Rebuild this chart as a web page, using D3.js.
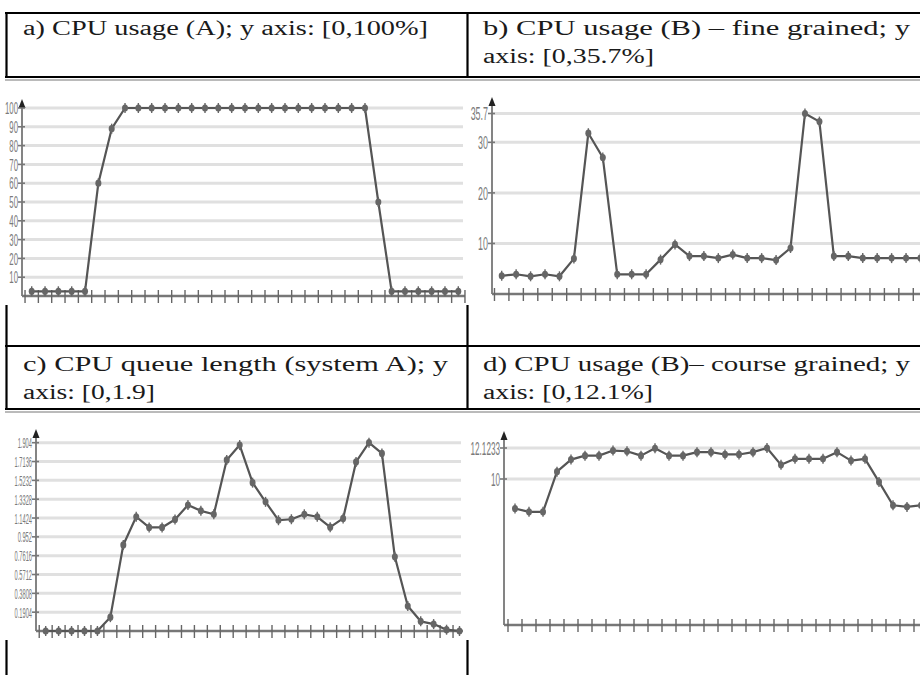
<!DOCTYPE html>
<html>
<head>
<meta charset="utf-8">
<script src="https://cdn.jsdelivr.net/npm/d3@7"></script>
<style>
  html, body { margin: 0; padding: 0; background: #fff; }
  svg { display: block; }
</style>
</head>
<body>
<svg id="fig" width="920" height="675"></svg>
<script>
// values
var cpuA = [2.5, 2.5, 2.5, 2.5, 2.5, 60, 89, 100, 100, 100, 100, 100, 100, 100, 100, 100,
            100, 100, 100, 100, 100, 100, 100, 100, 100, 100, 50, 2.5, 2.5, 2.5, 2.5, 2.5, 2.5];
var cpuBFine = [3.6, 3.9, 3.5, 3.9, 3.5, 7.0, 31.8, 27.0, 3.9, 3.9, 3.9, 6.8, 9.8, 7.5, 7.5,
                7.1, 7.8, 7.1, 7.1, 6.7, 9.1, 35.7, 34.1, 7.5, 7.5, 7.1, 7.1, 7.1, 7.1, 7.1];
var queueA = [0, 0, 0, 0, 0, 0.14, 0.87, 1.155, 1.047, 1.047, 1.128, 1.273, 1.215, 1.18, 1.73,
              1.88, 1.50, 1.306, 1.12, 1.13, 1.18, 1.155, 1.05, 1.138, 1.71, 1.904, 1.796,
              0.75, 0.253, 0.098, 0.07, 0.013, 0];
var cpuBCoarse = [7.98, 7.75, 7.75, 10.5, 11.33, 11.6, 11.6, 11.95, 11.9, 11.6, 12.1, 11.6,
                  11.6, 11.84, 11.84, 11.68, 11.68, 11.84, 12.12, 10.97, 11.38, 11.38, 11.38,
                  11.84, 11.26, 11.38, 9.8, 8.2, 8.09, 8.2];

var ticksA = [10, 20, 30, 40, 50, 60, 70, 80, 90, 100];
var labelsA = ["10", "20", "30", "40", "50", "60", "70", "80", "90", "100"];
var ticksB = [10, 20, 30, 35.7];
var labelsB = ["10", "20", "30", "35.7"];
var ticksC = [0.1904, 0.3808, 0.5712, 0.7616, 0.952, 1.1424, 1.3328, 1.5232, 1.7136, 1.904];
var labelsC = ["0.1904", "0.3808", "0.5712", "0.7616", "0.952", "1.1424", "1.3328", "1.5232", "1.7136", "1.904"];
var ticksD = [10, 12.1233];
var labelsD = ["10", "12.1233"];

var captionA = ["a) CPU usage (A); y axis: [0,100%]"];
var captionB = ["b) CPU usage (B) \u2013 fine grained; y", "axis: [0,35.7%]"];
var captionC = ["c) CPU queue length (system A); y", "axis: [0,1.9]"];
var captionD = ["d) CPU usage (B)\u2013 course grained; y", "axis: [0,12.1%]"];

(function () {
  "use strict";

  var svg = d3.select("#fig");

  // table rules (LaTeX tabular around the screenshots)
  var rules = svg.append("g").attr("class", "rules").attr("stroke", "#000");
  function hline(y, w, c) {
    rules.append("line").attr("x1", 5).attr("x2", 920).attr("y1", y).attr("y2", y)
      .attr("stroke-width", w).attr("stroke", c || "#000");
  }
  function vlines(y1, y2) {
    [6.5, 467.5].forEach(function (x) {
      rules.append("line").attr("x1", x).attr("x2", x).attr("y1", y1).attr("y2", y2)
        .attr("stroke-width", 2.2);
    });
  }
  hline(13, 2);
  vlines(12, 78);
  hline(77, 2);
  hline(80, 1, "#777");
  vlines(305, 410);
  hline(346, 2);
  hline(409, 2);
  hline(412, 1, "#777");
  vlines(640, 675);

  // captions, set in a serif face and stretched to the justified widths
  function caption(lines, x, y0, widths) {
    lines.forEach(function (t, i) {
      svg.append("text")
        .attr("x", x).attr("y", y0 + i * 28)
        .attr("font-family", "'Liberation Serif', 'DejaVu Serif', serif")
        .attr("font-size", 20)
        .attr("fill", "#1a1a1a")
        .attr("textLength", widths[i])
        .attr("lengthAdjust", "spacingAndGlyphs")
        .text(t);
    });
  }
  caption(captionA, 23, 35, [405]);
  caption(captionB, 483, 35, [427, 171]);
  caption(captionC, 23, 371, [425, 132]);
  caption(captionD, 483, 371, [427, 170]);

  var panels = [
    { data: cpuA, ticks: ticksA, labels: labelsA, max: 100,
      left: 22, first: 31.7, last: 458.3, right: 465, bottom: 296, top: 108, tip: 99,
      fs: 17, sx: 0.46 },
    { data: cpuBFine, ticks: ticksB, labels: labelsB, max: 35.7,
      left: 492, first: 501.7, last: 920.5, right: 922, bottom: 294, top: 113.5, tip: 97,
      fs: 19, sx: 0.47 },
    { data: queueA, ticks: ticksC, labels: labelsC, max: 1.904,
      left: 36, first: 45.7, last: 459.5, right: 463, bottom: 631, top: 442.7, tip: 429,
      fs: 15.5, sx: 0.37 },
    { data: cpuBCoarse, ticks: ticksD, labels: labelsD, max: 12.1233,
      left: 504, first: 515, last: 921, right: 922, bottom: 625, top: 448, tip: 431,
      fs: 19, sx: 0.43 }
  ];

  panels.forEach(drawPanel);

  function drawPanel(p) {
    var n = p.data.length;
    var x = d3.scaleLinear().domain([0, n - 1]).range([p.first, p.last]);
    var y = d3.scaleLinear().domain([0, p.max]).range([p.bottom, p.top]);
    var g = svg.append("g").attr("class", "panel");

    // horizontal grid
    g.append("g").selectAll("line").data(p.ticks).join("line")
      .attr("x1", p.left).attr("x2", p.right - 2)
      .attr("y1", function (d) { return y(d); })
      .attr("y2", function (d) { return y(d); })
      .attr("stroke", "#e0e0e0").attr("stroke-width", 3);

    // x axis with ticks half-way between samples
    g.append("line")
      .attr("x1", p.left).attr("x2", p.right)
      .attr("y1", p.bottom).attr("y2", p.bottom)
      .attr("stroke", "#777").attr("stroke-width", 2.5);
    var xt = d3.range(n + 1).map(function (i) { return i - 0.5; })
      .filter(function (i) { return x(i) > p.left + 2 && x(i) < p.right; });
    g.append("g").selectAll("line").data(xt).join("line")
      .attr("x1", function (d) { return x(d); })
      .attr("x2", function (d) { return x(d); })
      .attr("y1", p.bottom - 6).attr("y2", p.bottom + 7)
      .attr("stroke", "#666").attr("stroke-width", 1.4);

    // y axis with arrow head
    g.append("line")
      .attr("x1", p.left).attr("x2", p.left)
      .attr("y1", p.bottom).attr("y2", p.tip + 4)
      .attr("stroke", "#777").attr("stroke-width", 1.8);
    g.append("path")
      .attr("d", "M" + p.left + "," + p.tip + "l-3.5,9l7,0z")
      .attr("fill", "#222");
    g.append("g").selectAll("line").data(p.ticks).join("line")
      .attr("x1", p.left - 4).attr("x2", p.left + 3)
      .attr("y1", function (d) { return y(d); })
      .attr("y2", function (d) { return y(d); })
      .attr("stroke", "#777").attr("stroke-width", 1.6);

    // condensed grey tick labels
    g.append("g").selectAll("g").data(p.ticks).join("g")
      .attr("transform", function (d) {
        return "translate(" + (p.left - 4) + "," + y(d) + ") scale(" + p.sx + ",1)";
      })
      .append("text")
      .attr("text-anchor", "end")
      .attr("dy", "0.36em")
      .attr("font-family", "'Liberation Sans', Arial, sans-serif")
      .attr("font-size", p.fs)
      .attr("fill", "#7a7a7a")
      .text(function (d, i) { return p.labels[i]; });

    // series
    var line = d3.line()
      .x(function (d, i) { return x(i); })
      .y(function (d) { return y(d); });
    g.append("path")
      .datum(p.data)
      .attr("d", line)
      .attr("fill", "none")
      .attr("stroke", "#555")
      .attr("stroke-width", 2.2)
      .attr("stroke-linejoin", "round");

    var mk = g.append("g").selectAll("g").data(p.data).join("g")
      .attr("transform", function (d, i) { return "translate(" + x(i) + "," + y(d) + ")"; });
    mk.append("line")
      .attr("y1", -5).attr("y2", 5)
      .attr("stroke", "#666").attr("stroke-width", 1.4);
    mk.append("ellipse")
      .attr("rx", 3).attr("ry", 3.6)
      .attr("fill", "#666");
  }
})();
</script>
</body>
</html>
